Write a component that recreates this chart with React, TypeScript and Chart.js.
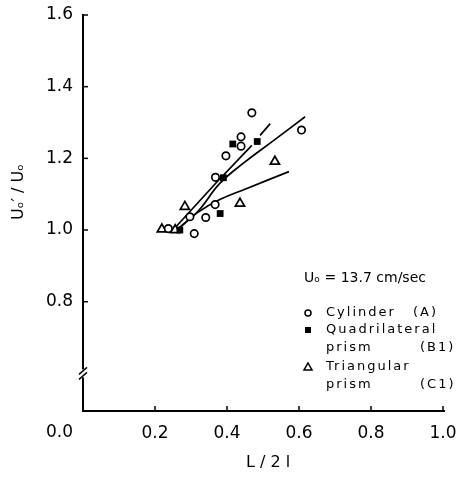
import React, { useEffect, useRef } from "react";
import { Chart, registerables } from "chart.js";

Chart.register(...registerables);

// ---- axis ticks ----
const xTicks = [0.2, 0.4, 0.6, 0.8, 1.0];
const yTicks = [0.8, 1.0, 1.2, 1.4, 1.6];
const yBreakAt = 0.6;

// ---- measured points ----
const cylinderL = [0.469, 0.607, 0.439, 0.439, 0.397, 0.368, 0.367, 0.297, 0.341, 0.237, 0.309];
const cylinderU = [1.327, 1.279, 1.26, 1.234, 1.207, 1.147, 1.071, 1.037, 1.035, 1.004, 0.99];

const quadL = [0.416, 0.484, 0.39, 0.381, 0.269];
const quadU = [1.24, 1.247, 1.146, 1.046, 1.0];

const triL = [0.533, 0.436, 0.283, 0.219, 0.256];
const triU = [1.191, 1.074, 1.065, 1.002, 1.0];

// ---- fitted curves ----
const steepL1 = [0.25, 0.37, 0.469];
const steepU1 = [1.0, 1.132, 1.236];
const steepL2 = [0.492, 0.52];
const steepU2 = [1.264, 1.297];

const longL = [0.26, 0.32, 0.38, 0.45, 0.53, 0.617];
const longU = [1.0, 1.053, 1.13, 1.19, 1.25, 1.316];

const lowL = [0.26, 0.32, 0.38, 0.45, 0.572];
const lowU = [1.0, 1.05, 1.085, 1.114, 1.163];

const pts = (xs: number[], ys: number[]) => xs.map((x, i) => ({ x, y: ys[i] }));

const TICK_FONT = "'DejaVu Sans', sans-serif";

const annotate = {
  id: "annotate",
  afterDraw(chart: any) {
    const { ctx, chartArea: a, scales } = chart;
    const x = scales.x;
    const y = scales.y;
    ctx.save();
    ctx.strokeStyle = "#000";
    ctx.fillStyle = "#000";
    ctx.lineWidth = 1.5;
    const seg = (x1: number, y1: number, x2: number, y2: number) => {
      ctx.beginPath();
      ctx.moveTo(x1, y1);
      ctx.lineTo(x2, y2);
      ctx.stroke();
    };
    // extend x axis slightly past the last tick
    ctx.lineWidth = 2;
    seg(a.right, a.bottom, a.right + 2, a.bottom);
    ctx.lineWidth = 1.5;
    // inward ticks
    xTicks.forEach((v) => {
      const px = x.getPixelForValue(v);
      seg(px, a.bottom, px, a.bottom - 5);
    });
    yTicks.forEach((v) => {
      const py = y.getPixelForValue(v);
      seg(a.left, py, a.left + 5, py);
    });
    // axis break
    const by = y.getPixelForValue(yBreakAt);
    ctx.fillStyle = "#fff";
    ctx.fillRect(a.left - 3, by - 4, 6, 8);
    ctx.fillStyle = "#000";
    ctx.lineWidth = 1.4;
    seg(a.left - 4, by + 1, a.left + 4, by - 6);
    seg(a.left - 4, by + 6, a.left + 4, by - 1);

    // origin label
    ctx.font = `17px ${TICK_FONT}`;
    ctx.textAlign = "right";
    ctx.textBaseline = "middle";
    ctx.fillText("0.0", a.left - 10, 433);

    // axis titles
    ctx.font = `16px ${TICK_FONT}`;
    ctx.textAlign = "center";
    ctx.fillText("L / 2 l", 268, 463);
    ctx.save();
    ctx.translate(19, 192);
    ctx.rotate(-Math.PI / 2);
    ctx.fillText("Uₒ′ / Uₒ", 0, 0);
    ctx.restore();

    // legend
    ctx.textAlign = "left";
    ctx.font = `14px ${TICK_FONT}`;
    ctx.fillText("Uₒ = 13.7 cm/sec", 304, 278);

    ctx.font = `13px ${TICK_FONT}`;
    (ctx as any).letterSpacing = "2px";
    const tx = 326;
    ctx.fillText("Cylinder", tx, 313);
    ctx.fillText("(A)", 413, 313);
    ctx.fillText("Quadrilateral", tx, 330);
    ctx.fillText("prism", tx, 348);
    ctx.fillText("(B1)", 420, 348);
    ctx.fillText("Triangular", tx, 367);
    ctx.fillText("prism", tx, 385);
    ctx.fillText("(C1)", 420, 385);
    (ctx as any).letterSpacing = "0px";

    // legend markers
    ctx.lineWidth = 1.5;
    ctx.beginPath();
    ctx.arc(308, 313, 3, 0, Math.PI * 2);
    ctx.stroke();
    ctx.fillRect(305, 327, 6, 6);
    ctx.beginPath();
    ctx.moveTo(308, 363);
    ctx.lineTo(312, 370);
    ctx.lineTo(304, 370);
    ctx.closePath();
    ctx.stroke();

    ctx.restore();
  },
};

export default function App() {
  const ref = useRef<HTMLCanvasElement | null>(null);

  useEffect(() => {
    if (!ref.current) return;
    const lineDs = (data: any[], tension: number) => ({
      data,
      showLine: true,
      borderColor: "#000",
      borderWidth: 1.7,
      pointRadius: 0,
      tension,
      fill: false,
    });
    const chart = new Chart(ref.current, {
      type: "scatter",
      data: {
        datasets: [
          {
            label: "Cylinder (A)",
            data: pts(cylinderL, cylinderU),
            pointStyle: "circle",
            pointRadius: 3.7,
            borderWidth: 1.7,
            borderColor: "#000",
            backgroundColor: "#fff",
          },
          {
            label: "Quadrilateral prism (B1)",
            data: pts(quadL, quadU),
            pointStyle: "rect",
            pointRadius: 4.8,
            borderWidth: 0,
            borderColor: "#000",
            backgroundColor: "#000",
          },
          {
            label: "Triangular prism (C1)",
            data: pts(triL, triU),
            pointStyle: "triangle",
            pointRadius: 5.3,
            borderWidth: 1.7,
            borderColor: "#000",
            backgroundColor: "#fff",
          },
          lineDs(pts(steepL1, steepU1), 0),
          lineDs(pts(steepL2, steepU2), 0),
          lineDs(pts(longL, longU), 0.4),
          lineDs(pts(lowL, lowU), 0.4),
        ],
      },
      options: {
        responsive: false,
        animation: false,
        devicePixelRatio: 1,
        layout: { autoPadding: false, padding: { top: 15, right: 20, bottom: 0, left: 0 } },
        plugins: { legend: { display: false }, tooltip: { enabled: false } },
        scales: {
          x: {
            type: "linear",
            min: 0,
            max: 1,
            grid: { display: false, drawTicks: false },
            border: { display: true, color: "#000", width: 2 },
            afterBuildTicks: (s: any) => {
              s.ticks = xTicks.map((v) => ({ value: v }));
            },
            afterFit: (s: any) => {
              s.height = 78;
              s.paddingLeft = 0;
              s.paddingRight = 0;
              s.paddingTop = 0;
              s.paddingBottom = 0;
            },
            ticks: {
              padding: 12,
              color: "#000",
              font: { family: TICK_FONT, size: 17 },
              callback: (v: any) => Number(v).toFixed(1),
            },
          },
          y: {
            type: "linear",
            min: 0.495,
            max: 1.6,
            grid: { display: false, drawTicks: false },
            border: { display: true, color: "#000", width: 2 },
            afterBuildTicks: (s: any) => {
              s.ticks = yTicks.map((v) => ({ value: v }));
            },
            afterFit: (s: any) => {
              s.width = 83;
              s.paddingLeft = 0;
              s.paddingRight = 0;
              s.paddingTop = 0;
              s.paddingBottom = 0;
            },
            ticks: {
              padding: 10,
              color: "#000",
              font: { family: TICK_FONT, size: 17 },
              callback: (v: any) => Number(v).toFixed(1),
            },
          },
        },
      },
      plugins: [annotate],
    });
    return () => chart.destroy();
  }, []);

  return (
    <div style={{ position: "absolute", left: 0, top: 0, width: 463, height: 489, background: "#fff" }}>
      <canvas ref={ref} width={463} height={489} />
    </div>
  );
}
